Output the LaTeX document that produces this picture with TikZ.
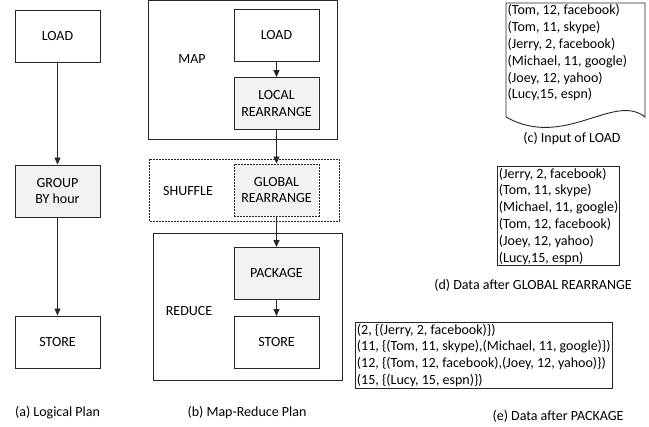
\documentclass[tikz,border=0pt]{standalone}
\usepackage{fontspec}
\setmainfont{Carlito}
\usetikzlibrary{arrows.meta}
\definecolor{edge}{HTML}{262626}
\definecolor{shade}{HTML}{F2F2F2}
\begin{document}
\begin{tikzpicture}[x=1pt,y=-1pt,
  every node/.style={font=\fontsize{14}{16.8}\selectfont, text=black},
  opbox/.style={draw=edge, line width=0.9pt, minimum width=85pt, minimum height=52pt, align=center, inner sep=0pt},
  graybox/.style={opbox, fill=shade},
  dashbox/.style={graybox, dash pattern=on 2pt off 1pt},
  stage/.style={draw=edge, line width=0.9pt},
  flow/.style={draw=edge, line width=0.9pt, -{Triangle[length=7pt,width=6pt]}},
  datatext/.style={align=left, inner xsep=1.5pt, inner ysep=1.5pt},
  caption/.style={inner sep=0pt}]
\useasboundingbox (0,0) rectangle (649,427);

% (a) logical plan
\node[opbox]   (aload)  at (57.5,36)    {LOAD};
\node[graybox] (agroup) at (57.5,191)   {GROUP\\BY hour};
\node[opbox]   (astore) at (57.5,342)   {STORE};
\draw[flow] (aload) -- (agroup);
\draw[flow] (agroup) -- (astore);
\node[caption] (acap) at (57.5,413) {(a) Logical Plan};

% (b) map-reduce plan: stage frames
\draw[stage] (148,0.8) rectangle (337,139);
\draw[stage, dash pattern=on 2pt off 1pt] (149,159) rectangle (339,221);
\draw[stage] (153,233) rectangle (342,380);
\node (mapl) at (192,59)  {MAP};
\node (shufl) at (188,191) {SHUFFLE};
\node (redl) at (189,311) {REDUCE};

\node[opbox]    (bload)  at (276.5,35.5)  {LOAD};
\node[graybox]  (blocal) at (276.5,103.5) {LOCAL\\REARRANGE};
\node[dashbox]  (bglob)  at (276.5,190)   {GLOBAL\\REARRANGE};
\node[graybox]  (bpack)  at (276.5,273.5) {PACKAGE};
\node[opbox]    (bstore) at (276.5,342.5) {STORE};
\draw[flow] (bload) -- (blocal);
\draw[flow] (blocal) -- (bglob);
\draw[flow] (bglob) -- (bpack);
\draw[flow] (bpack) -- (bstore);
\node[caption] (bcap) at (247,413) {(b) Map-Reduce Plan};

% (c) input document
\draw[stage] (506,3) -- (645,3) -- (645,117)
  .. controls (614,92) and (564,150) .. (506,117) -- cycle;
\node[datatext, anchor=north west] (cdata) at (506,3)
  {(Tom, 12, facebook)\\(Tom, 11, skype)\\(Jerry, 2, facebook)\\(Michael, 11, google)\\(Joey, 12, yahoo)\\(Lucy,15, espn)};
\node[caption] (ccap) at (572,139) {(c) Input of LOAD};

% (d) data after global rearrange
\node[datatext, draw=edge, line width=0.9pt, anchor=north west] (ddata) at (497,166)
  {(Jerry, 2, facebook)\\(Tom, 11, skype)\\(Michael, 11, google)\\(Tom, 12, facebook)\\(Joey, 12, yahoo)\\(Lucy,15, espn)};
\node[caption] (dcap) at (533,285) {(d) Data after GLOBAL REARRANGE};

% (e) data after package
\node[datatext, draw=edge, line width=0.9pt, anchor=north west] (edata) at (355,322)
  {(2, \{(Jerry, 2, facebook)\})\\(11, \{(Tom, 11, skype),(Michael, 11, google)\})\\(12, \{(Tom, 12, facebook),(Joey, 12, yahoo)\})\\(15, \{(Lucy, 15, espn)\})};
\node[caption] (ecap) at (558,416) {(e) Data after PACKAGE};
\end{tikzpicture}
\end{document}
